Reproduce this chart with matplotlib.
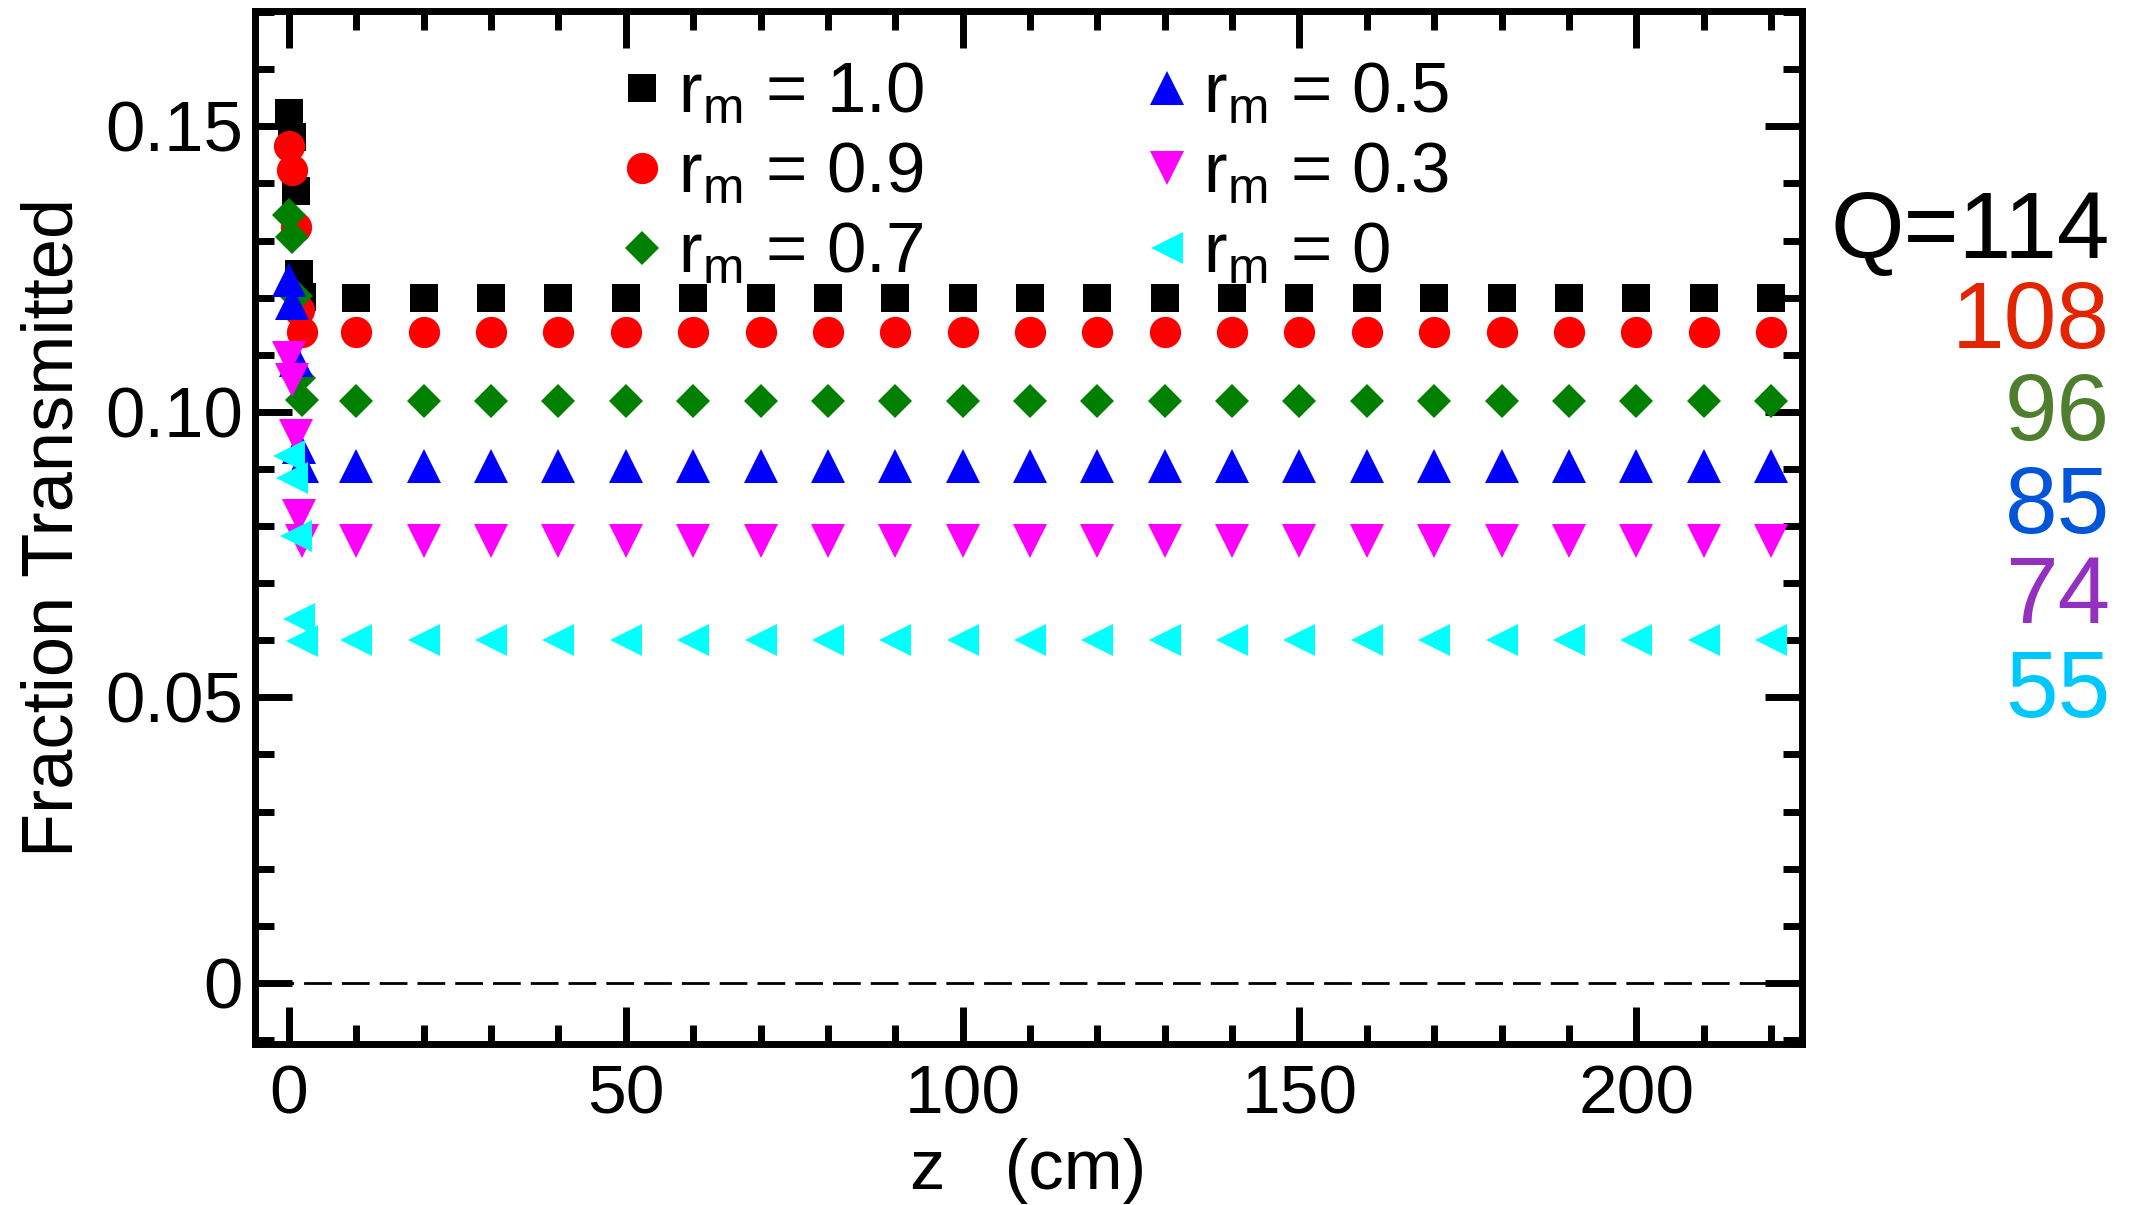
import matplotlib
matplotlib.use('Agg')
import matplotlib.pyplot as plt
from matplotlib.ticker import MultipleLocator

plt.rcParams['font.family'] = ['Liberation Sans', 'DejaVu Sans']
plt.rcParams['mathtext.fontset'] = 'custom'
plt.rcParams['mathtext.rm'] = 'Liberation Sans'
plt.rcParams['mathtext.it'] = 'Liberation Sans:italic'
plt.rcParams['mathtext.default'] = 'regular'

# polozenie z (cm): gesto przy wejsciu, potem co 10 cm
z = [0, 0.5, 1.0, 1.5, 2.0,
     10, 20, 30, 40, 50, 60, 70, 80, 90, 100, 110,
     120, 130, 140, 150, 160, 170, 180, 190, 200, 210, 220]

frac_r10 = [0.1523, 0.1482, 0.1386, 0.1242, 0.1201,
            0.1200, 0.1200, 0.1200, 0.1200, 0.1200, 0.1200, 0.1200, 0.1200, 0.1200, 0.1200, 0.1200,
            0.1200, 0.1200, 0.1200, 0.1200, 0.1200, 0.1200, 0.1200, 0.1200, 0.1200, 0.1200, 0.1200]
frac_r09 = [0.1466, 0.1423, 0.1323, 0.1179, 0.1140,
            0.1140, 0.1140, 0.1140, 0.1140, 0.1140, 0.1140, 0.1140, 0.1140, 0.1140, 0.1140, 0.1140,
            0.1140, 0.1140, 0.1140, 0.1140, 0.1140, 0.1140, 0.1140, 0.1140, 0.1140, 0.1140, 0.1140]
frac_r07 = [0.1345, 0.1307, 0.1202, 0.1060, 0.1021,
            0.1019, 0.1019, 0.1019, 0.1019, 0.1019, 0.1019, 0.1019, 0.1019, 0.1019, 0.1019, 0.1019,
            0.1019, 0.1019, 0.1019, 0.1019, 0.1019, 0.1019, 0.1019, 0.1019, 0.1019, 0.1019, 0.1019]
frac_r05 = [0.1231, 0.1190, 0.1091, 0.0939, 0.0905,
            0.0905, 0.0905, 0.0905, 0.0905, 0.0905, 0.0905, 0.0905, 0.0905, 0.0905, 0.0905, 0.0905,
            0.0905, 0.0905, 0.0905, 0.0905, 0.0905, 0.0905, 0.0905, 0.0905, 0.0905, 0.0905, 0.0905]
frac_r03 = [0.1094, 0.1055, 0.0957, 0.0818, 0.0774,
            0.0774, 0.0774, 0.0774, 0.0774, 0.0774, 0.0774, 0.0774, 0.0774, 0.0774, 0.0774, 0.0774,
            0.0774, 0.0774, 0.0774, 0.0774, 0.0774, 0.0774, 0.0774, 0.0774, 0.0774, 0.0774, 0.0774]
frac_r00 = [0.0922, 0.0884, 0.0782, 0.0638, 0.0598,
            0.0600, 0.0600, 0.0600, 0.0600, 0.0600, 0.0600, 0.0600, 0.0600, 0.0600, 0.0600, 0.0600,
            0.0600, 0.0600, 0.0600, 0.0600, 0.0600, 0.0600, 0.0600, 0.0600, 0.0600, 0.0600, 0.0600]

SERIES = [frac_r10, frac_r09, frac_r07, frac_r05, frac_r03, frac_r00]
LABELS = ['1.0', '0.9', '0.7', '0.5', '0.3', '0']
MARKERS = ['s', 'o', 'D', '^', 'v', '<']
SIZES = [20, 22.5, 17, 24.5, 24.5, 23.5]
COLORS = ['black', '#ff0000', '#008000', '#0000ff', '#ff00ff', '#00ffff']

Q_TEXT = ['Q=114', '108', '96', '85', '74', '55']
Q_COLORS = ['black', '#e22400', '#4f7e2e', '#0055d8', '#9430c0', '#00c8ff']
Q_BASE = [0.7856, 0.7110, 0.6349, 0.5574, 0.4827, 0.4050]

fig = plt.figure(figsize=(21.32, 12.05), dpi=100)
ax = fig.add_axes([0.1196, 0.1336, 0.7256, 0.8573])

for vals, mk, ms, col, lab in zip(SERIES, MARKERS, SIZES, COLORS, LABELS):
    ax.plot(z, vals, linestyle='none', marker=mk, ms=ms, color=col, mew=0,
            label='r$_{\\mathregular{m}}$ = ' + lab)

ax.axhline(0, color='black', lw=2, linestyle=(9.7, (10, 3.6)), zorder=1)

ax.set_xlim(-5.05, 224.6)
ax.set_ylim(-0.0107, 0.1702)
ax.set_xticks([0, 50, 100, 150, 200])
ax.xaxis.set_minor_locator(MultipleLocator(10))
ax.set_yticks([0, 0.05, 0.10, 0.15])
ax.set_yticklabels(['0', '0.05', '0.10', '0.15'])
ax.yaxis.set_minor_locator(MultipleLocator(0.01))

ax.tick_params(which='both', direction='in', top=True, right=True, width=5, color='black')
ax.tick_params(which='major', length=26.6)
ax.tick_params(which='minor', length=14)
ax.tick_params(axis='x', labelsize=50, pad=13.7)
ax.tick_params(axis='y', labelsize=51, pad=8.6)
for sp in ax.spines.values():
    sp.set_linewidth(5)

ax.set_xlabel('z   (cm)', fontsize=51, labelpad=8)
ax.set_ylabel('Fraction Transmitted', fontsize=52, labelpad=13)

ax.legend(loc='upper left', bbox_to_anchor=(0.2389, 0.951), ncol=2, frameon=False,
          fontsize=51, borderpad=0, borderaxespad=0, handlelength=0.5,
          handletextpad=0.26, columnspacing=3.17, labelspacing=0.2, numpoints=1)

for txt, col, yb in zip(Q_TEXT, Q_COLORS, Q_BASE):
    fig.text(0.9897, yb, txt, ha='right', va='baseline', fontsize=68, color=col)

fig.savefig('out.png', dpi=100)
